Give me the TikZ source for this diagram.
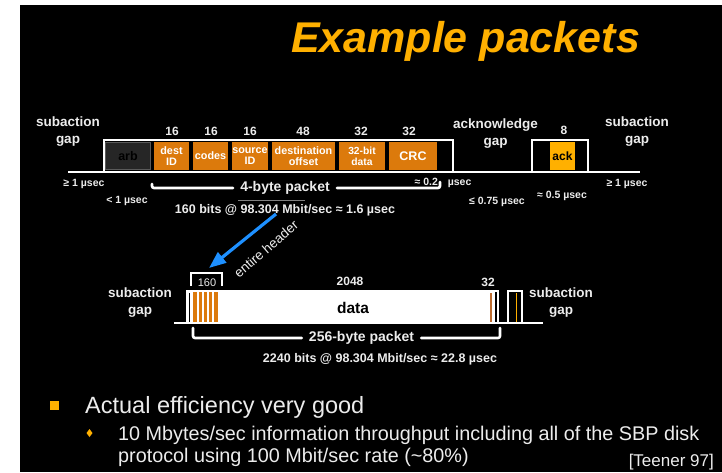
\documentclass[tikz,border=0pt]{standalone}
\usepackage{fontspec}
\setmainfont{Liberation Sans}
\usetikzlibrary{arrows.meta}
\definecolor{amber}{RGB}{255,176,0}
\definecolor{fieldorange}{RGB}{220,122,12}
\definecolor{arbgrey}{RGB}{38,38,38}
\definecolor{arbedge}{RGB}{90,90,90}
\definecolor{labelgrey}{RGB}{236,236,236}
\definecolor{arrowblue}{RGB}{30,144,255}
\definecolor{crcbrown}{RGB}{190,110,50}
\begin{document}
\begin{tikzpicture}[x=1pt,y=-1pt,
  wave/.style={white, line width=2.6pt},
  bracketline/.style={white, line width=2.6pt, line cap=round, rounded corners=2pt},
  field/.style={rectangle, fill=fieldorange, text=white, inner sep=0pt,
    minimum height=27.5pt, align=center, font=\bfseries\fontsize{10.8}{11}\selectfont},
  bits/.style={text=labelgrey, inner sep=0pt, font=\bfseries\fontsize{12}{12}\selectfont},
  gaplabel/.style={text=labelgrey, inner sep=0pt, align=center, font=\bfseries\fontsize{13.5}{17}\selectfont},
  tlabel/.style={text=labelgrey, inner sep=0pt, font=\bfseries\fontsize{10.5}{12}\selectfont},
  pktlabel/.style={text=labelgrey, inner ysep=0pt, inner xsep=7pt, font=\bfseries\fontsize{14}{14}\selectfont},
  ratelabel/.style={text=labelgrey, inner sep=0pt, font=\bfseries\fontsize{12.5}{12.5}\selectfont},
  bodytext/.style={text=labelgrey, inner sep=0pt, anchor=base west}
]
\useasboundingbox (0,0) rectangle (722,472);
\fill[white] (0,0) rectangle (722,472);
\fill[black] (20,5) rectangle (722,472);

% title
\node[anchor=base, text=amber, inner sep=0pt,
      font=\bfseries\itshape\fontsize{43}{43}\selectfont] (title) at (465.5,52) {Example packets};

% ---------------- 4-byte write packet and its acknowledge ----------------
\draw[wave] (68,172) -- (640,172);
\draw[wave] (68,172) -| (104,140) -| (453,172) -| (532,140) -| (588,172) -- (640,172);

\node[rectangle, fill=arbgrey, draw=arbedge, line width=0.6pt, inner sep=0pt,
      minimum width=45pt, minimum height=27pt, text=black,
      font=\bfseries\fontsize{12.5}{12}\selectfont] (arb) at (128,156) {arb};
\node[field, minimum width=35pt] (destid) at (171.5,156) {dest\\ID};
\node[field, minimum width=35pt] (codes) at (210.5,156) {codes};
\node[field, minimum width=36pt] (srcid) at (250,156) {source\\ID};
\node[field, minimum width=63pt] (dstoff) at (303.5,156) {destination\\offset};
\node[field, minimum width=46pt, font=\bfseries\fontsize{10.3}{11}\selectfont] (qdata) at (362,156) {32-bit\\data};
\node[field, minimum width=48pt, font=\bfseries\fontsize{12.5}{12}\selectfont] (crc) at (413,156) {CRC};
\node[rectangle, fill=amber, inner sep=0pt, minimum width=25pt, minimum height=28pt,
      text=black, font=\bfseries\fontsize{12}{12}\selectfont] (ack) at (562.5,156) {ack};

% field widths in bits
\node[bits] (b1) at (172,131) {16};
\node[bits] (b2) at (211,131) {16};
\node[bits] (b3) at (250,131) {16};
\node[bits] (b4) at (303,131) {48};
\node[bits] (b5) at (361,131) {32};
\node[bits] (b6) at (409,131) {32};
\node[bits] (b7) at (564,130) {8};

% gap names
\node[gaplabel] (gapl) at (68,132) {subaction\\gap};
\node[gaplabel] (gapa) at (495.5,134) {acknowledge\\gap};
\node[gaplabel] (gapr) at (637,132) {subaction\\gap};

% timings
\node[tlabel] (t1) at (84,184) {≥ 1 µsec};
\node[tlabel] (t2) at (127,201) {< 1 µsec};
\node[tlabel] (t3) at (443,183) {≈ 0.2\hspace{7pt} µsec};
\node[tlabel] (t4) at (497,202) {≤ 0.75 µsec};
\node[tlabel] (t5) at (562,196) {≈ 0.5 µsec};
\node[tlabel] (t6) at (627,184) {≥ 1 µsec};

% packet span
\node[pktlabel] (pk4) at (285,188) {4-byte packet};
\draw[bracketline] (152,184) |- (pk4.west);
\draw[bracketline] (pk4.east) -| (440,182);
\draw[gray, line width=0.7pt] (238,200) -- (305,200);
\node[ratelabel] (rate4) at (285,210) {160 bits @ 98.304 Mbit/sec ≈ 1.6 µsec};

% ---------------- header pointer ----------------
\coordinate (arrowtail) at (276,214);
\coordinate (arrowtip) at (209,268);
\draw[arrowblue, line width=3.2pt, -{Triangle[length=17pt,width=13pt]}] (arrowtail) -- (arrowtip);
\node[text=labelgrey, inner sep=0pt, rotate=41, font=\fontsize{13.5}{13.5}\selectfont]
      (hdr) at (266,249) {entire header};

% ---------------- 256-byte block packet ----------------
\draw[wave] (174,323) -- (543,323);
\draw[wave] (174,323) -| (187,291) -| (498,323) -| (508,291) -| (522,323) -- (543,323);
\fill[white] (187,291) rectangle (494.5,323);
\draw[black, line width=1.2pt] (189.6,293) -- (189.6,321.5);
\fill[fieldorange] (192.5,292.3) rectangle (217.5,321.7);
\foreach \sx in {198,203,208,213}
  \draw[white, line width=1.1pt] (\sx,292.3) -- (\sx,321.7);
\draw[crcbrown, line width=1.2pt] (491,293) -- (491,321.5);
\draw[amber, line width=1.3pt] (516.5,293) -- (516.5,321.5);

\node[inner sep=0pt, text=black, font=\bfseries\fontsize{15.5}{15.5}\selectfont] (datalabel) at (353,308) {data};
\node[bits, font=\fontsize{11}{11}\selectfont] (h160) at (207,283) {160};
\draw[white, line width=1.8pt] (191,286) -- (191,273) -- (222,273) -- (222,286);
\node[bits] (b2048) at (350,281) {2048};
\node[bits] (b32) at (488,282) {32};

\node[gaplabel] (gapbl) at (140,303) {subaction\\gap};
\node[gaplabel] (gapbr) at (561,303) {subaction\\gap};

\node[pktlabel] (pk256) at (361.5,338) {256-byte packet};
\draw[bracketline] (193,328) |- (pk256.west);
\draw[bracketline] (pk256.east) -| (500,328);
\node[ratelabel] (rate256) at (380,359) {2240 bits @ 98.304 Mbit/sec ≈ 22.8 µsec};

% ---------------- bullet text ----------------
\fill[amber] (50,401) rectangle (58.5,409.5);
\node[bodytext, font=\fontsize{23.5}{24}\selectfont] (line1) at (85,413) {Actual efficiency very good};
\fill[amber] (89.5,429) -- (92.5,433) -- (89.5,437) -- (86.5,433) -- cycle;
\node[bodytext, font=\fontsize{19.8}{20}\selectfont] (line2) at (118,440) {10 Mbytes/sec information throughput including all of the SBP disk};
\node[bodytext, font=\fontsize{19.8}{20}\selectfont] (line3) at (118,462) {protocol using 100 Mbit/sec rate (\textasciitilde80\%)};
\node[bodytext, anchor=base east, font=\fontsize{17}{17}\selectfont] (cite) at (714,466) {[Teener 97]};
\end{tikzpicture}
\end{document}
